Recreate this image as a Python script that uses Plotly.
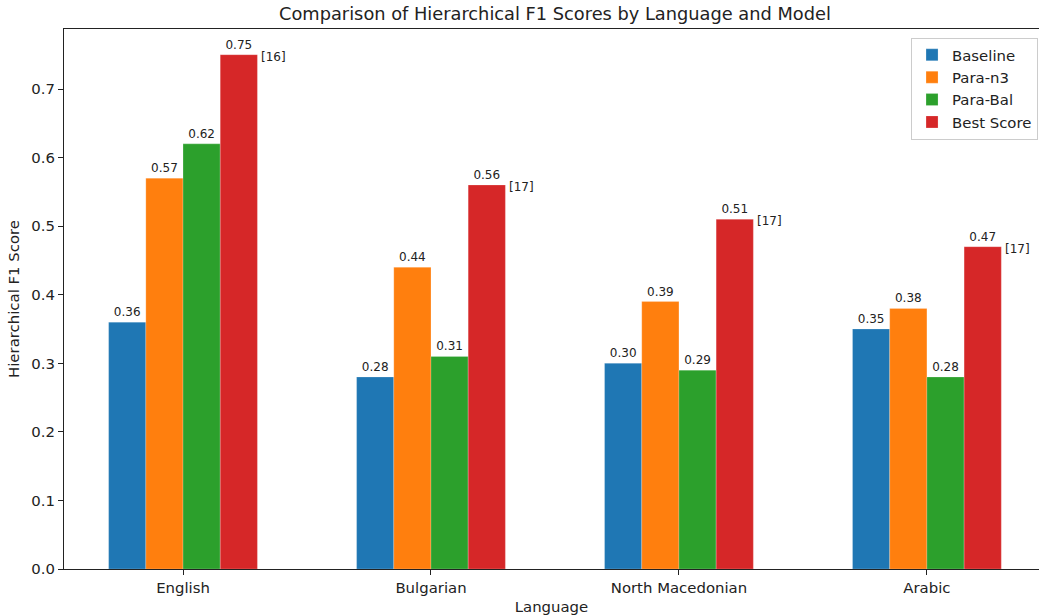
import plotly.graph_objects as go

languages = ["English", "Bulgarian", "North Macedonian", "Arabic"]
models = ["Baseline", "Para-n3", "Para-Bal", "Best Score"]
baseline = [0.36, 0.28, 0.30, 0.35]
para_n3 = [0.57, 0.44, 0.39, 0.38]
para_bal = [0.62, 0.31, 0.29, 0.28]
best_score = [0.75, 0.56, 0.51, 0.47]
best_refs = ["[16]", "[17]", "[17]", "[17]"]
colors = ["#1f77b4", "#ff7f0e", "#2ca02c", "#d62728"]
y_ticks = [0.0, 0.1, 0.2, 0.3, 0.4, 0.5, 0.6, 0.7]

W, H = 1039, 616
ML, MR, MT, MB = 64, 0, 29, 47
x_range = [-0.48, 3.452]
y_range = [0, 0.7875]
FONT = "DejaVu Sans"
FS = 14.9
FS_SMALL = 12

fig = go.Figure()
series = [baseline, para_n3, para_bal, best_score]
for name, vals, c in zip(models, series, colors):
    fig.add_trace(go.Bar(
        x=languages, y=vals, name=name,
        marker=dict(color=c, line=dict(color="rgba(255,255,255,0.35)", width=0.6)),
        text=[f"{v:.2f}" for v in vals], textposition="outside",
        textfont=dict(size=FS_SMALL, color="#222", family=FONT),
        cliponaxis=False, constraintext="none",
    ))

px_per_unit = (W - ML - MR) / (x_range[1] - x_range[0])
bar_w = 0.15
for lang, v, ref in zip(languages, best_score, best_refs):
    fig.add_annotation(
        x=lang, y=v, text=ref, showarrow=False,
        xanchor="left", yanchor="middle",
        xshift=(1.5 * bar_w + bar_w / 2) * px_per_unit + 2, yshift=-2,
        font=dict(size=FS_SMALL, color="#222", family=FONT),
    )

fig.update_layout(
    width=W, height=H,
    margin=dict(l=ML, r=MR, t=MT, b=MB, autoexpand=False),
    paper_bgcolor="white", plot_bgcolor="white",
    barmode="group", bargap=0.4, bargroupgap=0,
    font=dict(family=FONT, size=FS, color="#222"),
    title=dict(text="Comparison of Hierarchical F1 Scores by Language and Model",
               x=(ML + (0.48 + 3.48) / 2 * px_per_unit) / W, xanchor="center",
               y=1 - 14 / H, yanchor="middle", automargin=False,
               font=dict(size=17.8, family=FONT, color="#222")),
    legend=dict(x=0.999, xanchor="right", y=0.984, yanchor="top",
                bgcolor="rgba(255,255,255,0.8)", bordercolor="#cccccc", borderwidth=1,
                font=dict(size=FS, family=FONT, color="#222"),
                itemwidth=30, tracegroupgap=0),
    xaxis=dict(range=x_range, showline=True, linecolor="#222", linewidth=1.2, mirror=True,
               ticks="outside", ticklen=5, tickcolor="#222", showgrid=False, automargin=False,
               title=dict(text="Language", font=dict(size=FS, family=FONT), standoff=5),
               tickfont=dict(size=FS, family=FONT)),
    yaxis=dict(range=y_range, showline=True, linecolor="#222", linewidth=1.2, mirror=False,
               ticks="outside", ticklen=5, tickcolor="#222", showgrid=False, zeroline=False,
               automargin=False,
               tickvals=y_ticks, ticktext=[f"{t:.1f}" for t in y_ticks],
               title=dict(text="Hierarchical F1 Score", font=dict(size=FS, family=FONT), standoff=8),
               tickfont=dict(size=FS, family=FONT)),
)

fig.write_html(
    "out.html",
    config={"displayModeBar": False},
    post_script="document.body.style.margin='0px';document.body.style.overflow='hidden';",
)
